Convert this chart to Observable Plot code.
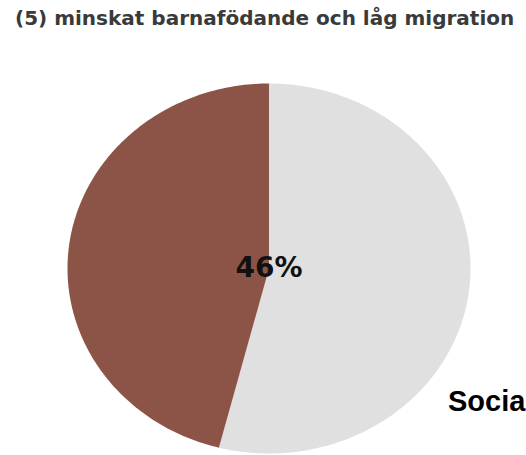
<!DOCTYPE html>
<html><head><meta charset="utf-8">
<script src="https://cdn.jsdelivr.net/npm/d3@7"></script>
<script src="https://cdn.jsdelivr.net/npm/@observablehq/plot@0.6"></script>
<style>
html,body{margin:0;padding:0;background:#fff}
body{width:526px;height:455px;overflow:hidden;position:relative}
#title{position:absolute;left:15px;top:6px;font:bold 20px "DejaVu Sans",sans-serif;color:#3a3a3a;white-space:nowrap}
#chart{position:absolute;left:0;top:50px}
#side{position:absolute;left:448px;top:385px;font:bold 29px "Liberation Sans",Arial,sans-serif;color:#000;white-space:nowrap}
</style></head><body>
<div id="title"></div>
<div id="chart"></div>
<div id="side"></div>
<script>
const titleText = "(5) minskat barnafödande och låg migration";
const sideLabel = "Socia";
const categories = ["Övrigt", "Scenario 5"];
const values = [54, 46];
const colors = ["#e0e0e0", "#8c5446"];
const centerLabel = "46%";

document.getElementById("title").textContent = titleText;
document.getElementById("side").textContent = sideLabel;

const arcs = d3.pie().sort(null).value(d => d)(values);
const pts = [];
arcs.forEach((a, i) => {
  const n = Math.max(2, Math.ceil((a.endAngle - a.startAngle) / (Math.PI / 180)));
  pts.push({cat: categories[i], x: 0, y: 0});
  for (let k = 0; k <= n; k++) {
    const t = a.startAngle + (a.endAngle - a.startAngle) * k / n;
    pts.push({cat: categories[i], x: Math.sin(t), y: Math.cos(t)});
  }
  pts.push({cat: categories[i], x: 0, y: 0});
});

const chart = Plot.plot({
  width: 526,
  height: 405,
  margin: 0,
  x: {domain: [-1, 1], range: [67, 470], axis: null},
  y: {domain: [-1, 1], range: [403, 33], axis: null},
  color: {domain: categories, range: colors},
  marks: [
    Plot.line(pts, {x: "x", y: "y", z: "cat", fill: "cat", stroke: "none"}),
    Plot.text([centerLabel], {x: () => 0, y: () => 0, text: d => d, fontSize: 28, fontWeight: "bold", fontFamily: "DejaVu Sans, sans-serif", fill: "#111", textAnchor: "middle", lineAnchor: "middle", dy: 0})
  ]
});
document.getElementById("chart").appendChild(chart);
</script>
</body></html>
